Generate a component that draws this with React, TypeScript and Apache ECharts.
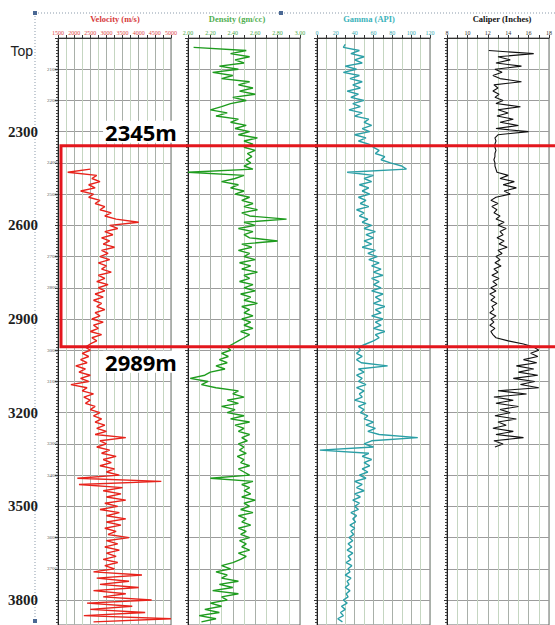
import React, { useEffect, useRef } from "react";
import * as echarts from "echarts";

// ---- depth frame ----
const DEPTH_MIN = 2000;
const DEPTH_MAX = 3880;
const STEP = 10;
const depthBigLabels = [2300, 2600, 2900, 3200, 3500, 3800];
const zoneDepths = [2345, 2989];

// ---- tick labels ----
const velocityTicks = [1500, 2000, 2500, 3000, 3500, 4000, 4500, 5000];
const densityTicks = [2.0, 2.2, 2.4, 2.6, 2.8, 3.0];
const gammaTicks = [0, 20, 40, 60, 80, 100, 120];
const caliperTicks = [8, 10, 12, 14, 16, 18];

// ---- curves (one value every 10 m from the start depth) ----
const velocityStart = 2420;
const velocity = [
  2500, 1800, 2700, 2550, 2800, 2450, 2650, 2200, 2600, 2450,
  2800, 2650, 2950, 2800, 3150, 2950, 3300, 4000, 3100, 3350,
  2950, 3200, 2850, 3100, 2900, 3250, 2850, 3050, 2800, 3100,
  2750, 3000, 2850, 3150, 2750, 2950, 2700, 3050, 2750, 2950,
  2650, 2900, 2600, 2850, 2700, 2950, 2650, 2800, 2550, 2900,
  2600, 2750, 2500, 2850, 2550, 2700, 2500, 2350, 2500, 2250,
  2450, 2200, 2400, 2050, 2350, 2150, 2500, 2200, 2450, 1900,
  2400, 2250, 2600, 2300, 2500, 2350, 2650, 2500, 2800, 2600,
  2850, 2650, 2950, 2700, 3000, 2650, 3600, 2800, 3000, 2700,
  3100, 2850, 3300, 2900, 3150, 2800, 3250, 3000, 3400, 2100,
  4700, 2150, 3500, 2900, 3450, 3000, 3600, 2950, 3350, 2800,
  3400, 3000, 3600, 3000, 3450, 2950, 3300, 3050, 3700, 3000,
  3350, 2950, 3400, 3000, 3300, 2900, 3350, 2950, 3250, 2600,
  4100, 2700, 3700, 2800, 4000, 2600, 3600, 2900, 4400, 2400,
  3800, 2500, 4200, 2300, 5000, 2600,
];

const densityStart = 2030;
const density = [
  2.05, 2.52, 2.38, 2.55, 2.42, 2.5, 2.28, 2.45, 2.22, 2.4,
  2.3, 2.55, 2.45, 2.58, 2.46, 2.6, 2.4, 2.52, 2.38, 2.3,
  2.2, 2.35, 2.25, 2.45, 2.38, 2.52, 2.42, 2.55, 2.45, 2.62,
  2.5, 2.58, 2.5, 2.6, 2.53, 2.57, 2.52, 2.56, 2.5, 2.58,
  2.0, 2.5, 2.42, 2.3, 2.45, 2.38, 2.5, 2.42, 2.55, 2.48,
  2.58, 2.5, 2.62, 2.48, 2.55, 2.88, 2.5, 2.6, 2.45, 2.58,
  2.5, 2.55, 2.8, 2.48, 2.57, 2.45, 2.55, 2.5, 2.6, 2.46,
  2.56, 2.48, 2.62, 2.5, 2.55, 2.46, 2.58, 2.5, 2.6, 2.47,
  2.56, 2.5, 2.62, 2.48, 2.55, 2.5, 2.58, 2.48, 2.56, 2.5,
  2.58, 2.47, 2.55, 2.5, 2.45, 2.4, 2.35, 2.38, 2.3, 2.36,
  2.28, 2.35, 2.25, 2.33, 2.2, 2.15, 2.02, 2.18, 2.12, 2.25,
  2.45, 2.4, 2.5, 2.35, 2.45, 2.3, 2.42, 2.35, 2.5, 2.38,
  2.55, 2.42, 2.5, 2.45, 2.55, 2.48, 2.53, 2.45, 2.5, 2.46,
  2.52, 2.44, 2.5, 2.47, 2.55, 2.45, 2.5, 2.55, 2.2, 2.58,
  2.48, 2.55, 2.5, 2.56, 2.48, 2.6, 2.5, 2.55, 2.47, 2.58,
  2.45, 2.52, 2.48, 2.56, 2.45, 2.52, 2.47, 2.55, 2.46, 2.52,
  2.48, 2.55, 2.45, 2.52, 2.47, 2.4, 2.3, 2.38, 2.25, 2.35,
  2.3, 2.45, 2.28, 2.4, 2.22, 2.45, 2.3, 2.35, 2.2, 2.3,
  2.15, 2.28, 2.1, 2.25, 2.12,
];

const gammaStart = 2020;
const gamma = [
  30, 28, 45, 36, 50, 40, 48, 30, 42, 28,
  45, 35, 48, 38, 46, 32, 44, 36, 50, 38,
  46, 34, 48, 40, 55, 50, 58, 48, 56, 40,
  52, 44, 55, 60, 66, 62, 72, 68, 78, 90,
  95, 32, 60, 50, 58, 45, 55, 48, 56, 44,
  52, 46, 55, 42, 50, 45, 54, 48, 58, 50,
  62, 52, 60, 50, 58, 48, 62, 54, 64, 55,
  66, 58, 68, 60, 70, 58, 66, 60, 68, 58,
  70, 62, 68, 60, 72, 62, 68, 58, 70, 62,
  68, 60, 72, 62, 66, 60, 52, 44, 46, 42,
  48, 42, 47, 75, 44, 50, 42, 48, 44, 52,
  42, 50, 45, 48, 40, 52, 44, 50, 46, 54,
  50, 60, 52, 62, 54, 66, 107, 58, 50, 60,
  3, 55, 48, 58, 50, 56, 48, 54, 45, 52,
  40, 48, 42, 50, 40, 46, 38, 45, 40, 44,
  36, 42, 38, 41, 35, 40, 36, 39, 34, 38,
  33, 37, 32, 38, 33, 36, 31, 37, 33, 35,
  30, 36, 32, 34, 30, 35, 31, 33, 28, 32,
  26, 30, 25, 28, 22, 27,
];

const caliperStart = 2040;
const caliper = [
  12.1, 16.5, 13.0, 14.2, 12.8, 15.3, 12.7, 13.4, 12.5, 13.2,
  15.3, 12.6, 13.0, 12.5, 13.1, 12.7, 13.5, 12.8, 15.2, 13.0,
  14.0, 12.9, 14.5, 13.2, 15.0, 12.8, 16.0, 13.0, 12.7, 12.8,
  12.7, 12.7, 12.8, 12.7, 12.7, 12.6, 12.7, 12.7, 12.8, 12.9,
  14.0, 13.2, 14.6, 13.5, 14.8, 13.6, 14.2, 12.8, 12.3, 13.0,
  12.4, 12.9, 12.6, 13.2, 12.8, 13.6, 13.0, 13.8, 13.2, 13.5,
  12.9, 13.6, 13.1, 13.9, 13.0, 13.4, 12.8, 13.2, 12.7, 13.3,
  12.6, 13.0, 12.4, 13.1, 12.5, 12.9, 12.3, 12.8, 12.2, 12.7,
  12.3, 12.9, 12.4, 12.6, 12.2, 12.8, 12.3, 12.6, 12.2, 12.7,
  12.3, 12.5, 12.8, 14.0, 15.5, 16.5, 17.0, 16.2, 16.9, 15.5,
  16.8, 14.8, 16.5, 15.0, 16.9, 14.5, 16.6, 15.2, 17.0, 13.0,
  15.8, 12.6, 14.5, 12.8, 15.0, 13.2, 14.2, 12.7, 14.8, 13.0,
  13.8, 12.5, 14.5, 12.8, 15.5, 12.6, 13.5, 12.7,
];

const tracks = [
  { title: "Velocity (m/s)", titleColor: "#d63a3a", color: "#e8231b", labelColor: "#e04848", min: 1500, max: 5000, interval: 250, ticks: velocityTicks, decimals: 0, start: velocityStart, values: velocity, left: 58, width: 113, titleX: 115, lineWidth: 1.4 },
  { title: "Density (gm/cc)", titleColor: "#4fae4f", color: "#1e9c1e", labelColor: "#4aa84a", min: 2, max: 3, interval: 0.1, ticks: densityTicks, decimals: 2, start: densityStart, values: density, left: 188, width: 112, titleX: 237, lineWidth: 1.4 },
  { title: "Gamma (API)", titleColor: "#3cb3bb", color: "#2a9fa6", labelColor: "#3aaab2", min: 0, max: 120, interval: 10, ticks: gammaTicks, decimals: 0, start: gammaStart, values: gamma, left: 317, width: 113, titleX: 369, lineWidth: 1.4 },
  { title: "Caliper (Inches)", titleColor: "#111", color: "#111", labelColor: "#333", min: 8, max: 18, interval: 1, ticks: caliperTicks, decimals: 0, start: caliperStart, values: caliper, left: 447, width: 113, titleX: 502, lineWidth: 1.1 },
];

const GRID_TOP = 38;
const GRID_H = 587.5;

export default function App() {
  const ref = useRef<HTMLDivElement>(null);
  useEffect(() => {
    document.body.style.margin = "0";
    const chart = echarts.init(ref.current!, undefined, { renderer: "svg" });
    const option: any = {
      animation: false,
      backgroundColor: "#fff",
      grid: tracks.map((t) => ({
        left: t.left,
        top: GRID_TOP,
        width: t.width,
        height: GRID_H,
        show: true,
        borderColor: "#6a6a6a",
        borderWidth: 1,
      })),
      xAxis: tracks.map((t, i) => ({
        type: "value",
        gridIndex: i,
        position: "top",
        min: t.min,
        max: t.max,
        interval: t.interval,
        axisLine: { show: true, lineStyle: { color: "#333", width: 1 } },
        axisTick: { show: true, length: 3, lineStyle: { color: "#333" } },
        axisLabel: {
          show: true,
          fontSize: 6,
          fontFamily: "Liberation Serif",
          color: t.labelColor,
          margin: 2,
          showMinLabel: true,
          showMaxLabel: true,
          formatter: (v: number) =>
            t.ticks.some((x) => Math.abs(x - v) < 1e-6) ? v.toFixed(t.decimals) : "",
        },
        splitLine: { show: true, lineStyle: { color: ["#a9b0a9", "#c5d6c1"], width: 1 } },
      })),
      yAxis: tracks.map((t, i) => ({
        type: "value",
        gridIndex: i,
        inverse: true,
        min: DEPTH_MIN,
        max: DEPTH_MAX,
        interval: 100,
        axisLine: { show: true, lineStyle: { color: "#222", width: 1 } },
        axisTick: { show: true, length: 3, lineStyle: { color: "#333" } },
        minorTick: { show: true, splitNumber: 10, length: 2, lineStyle: { color: "#444" } },
        splitLine: { show: true, lineStyle: { color: "#9c9c9c", width: 1 } },
        axisLabel:
          i === 0
            ? {
                show: true,
                margin: 1,
                showMaxLabel: false,
                formatter: (v: number) => {
                  if (v === DEPTH_MIN) return "{top|Top}";
                  if (v % 100 !== 0) return "";
                  if (depthBigLabels.includes(v)) return `{big|${v}}`;
                  return `{small|${v}}`;
                },
                rich: {
                  small: { fontSize: 5, color: "#555", fontFamily: "Liberation Serif" },
                  big: {
                    fontSize: 15,
                    fontWeight: "bold",
                    fontFamily: "Liberation Serif",
                    color: "#1e1e1e",
                    padding: [0, 19, 0, 0],
                  },
                  top: {
                    fontSize: 14,
                    fontFamily: "Liberation Sans",
                    color: "#222",
                    padding: [26, 24, 0, 0],
                  },
                },
              }
            : { show: false },
      })),
      series: tracks.map((t, i) => ({
        type: "line",
        xAxisIndex: i,
        yAxisIndex: i,
        showSymbol: false,
        symbol: "none",
        silent: true,
        clip: true,
        lineStyle: { color: t.color, width: t.lineWidth },
        data: t.values.map((v, k) => [v, t.start + k * STEP]),
      })),
    };
    chart.setOption(option);

    const yTop = chart.convertToPixel({ yAxisIndex: 0 }, zoneDepths[0]) as number;
    const yBot = chart.convertToPixel({ yAxisIndex: 0 }, zoneDepths[1]) as number;
    const zoneLeft = tracks[0].left + 3;

    const graphics: any[] = [
      // dotted frame of the embedded picture
      { type: "line", shape: { x1: 35, y1: 13, x2: 555, y2: 13 }, style: { stroke: "#8b9bab", lineWidth: 1, lineDash: [1, 2] } },
      { type: "line", shape: { x1: 35, y1: 13, x2: 35, y2: 625 }, style: { stroke: "#8b9bab", lineWidth: 1, lineDash: [1, 2] } },
      { type: "rect", shape: { x: 33, y: 11, width: 4, height: 4 }, style: { fill: "#4a6894" } },
      { type: "rect", shape: { x: 279, y: 11, width: 4, height: 4 }, style: { fill: "#4a6894" } },
      { type: "rect", shape: { x: 33, y: 619, width: 4, height: 4 }, style: { fill: "#4a6894" } },
      ...tracks.map((t) => ({
        type: "text",
        x: t.titleX,
        y: 19,
        style: {
          text: t.title,
          fill: t.titleColor,
          fontSize: 8.5,
          fontWeight: "bold",
          fontFamily: "Liberation Serif",
          align: "center",
          verticalAlign: "middle",
        },
      })),
      {
        type: "rect",
        z: 100,
        shape: { x: zoneLeft, y: yTop, width: 560 - zoneLeft + 10, height: yBot - yTop },
        style: { fill: "none", stroke: "#e3171d", lineWidth: 3 },
      },
      {
        type: "text",
        z: 101,
        x: 141,
        y: yTop - 3,
        style: {
          text: `${zoneDepths[0]}m`,
          fill: "#000",
          fontSize: 22,
          fontWeight: "bold",
          fontFamily: "Open Sans",
          align: "center",
          verticalAlign: "bottom",
          backgroundColor: "#fff",
          padding: [0, 2, 0, 2],
        },
      },
      {
        type: "text",
        z: 101,
        x: 141,
        y: yBot + 4,
        style: {
          text: `${zoneDepths[1]}m`,
          fill: "#000",
          fontSize: 22,
          fontWeight: "bold",
          fontFamily: "Open Sans",
          align: "center",
          verticalAlign: "top",
          backgroundColor: "#fff",
          padding: [0, 2, 0, 2],
        },
      },
    ];
    chart.setOption({ graphic: graphics });

    return () => chart.dispose();
  }, []);
  return <div ref={ref} style={{ width: 555, height: 625 }} />;
}
